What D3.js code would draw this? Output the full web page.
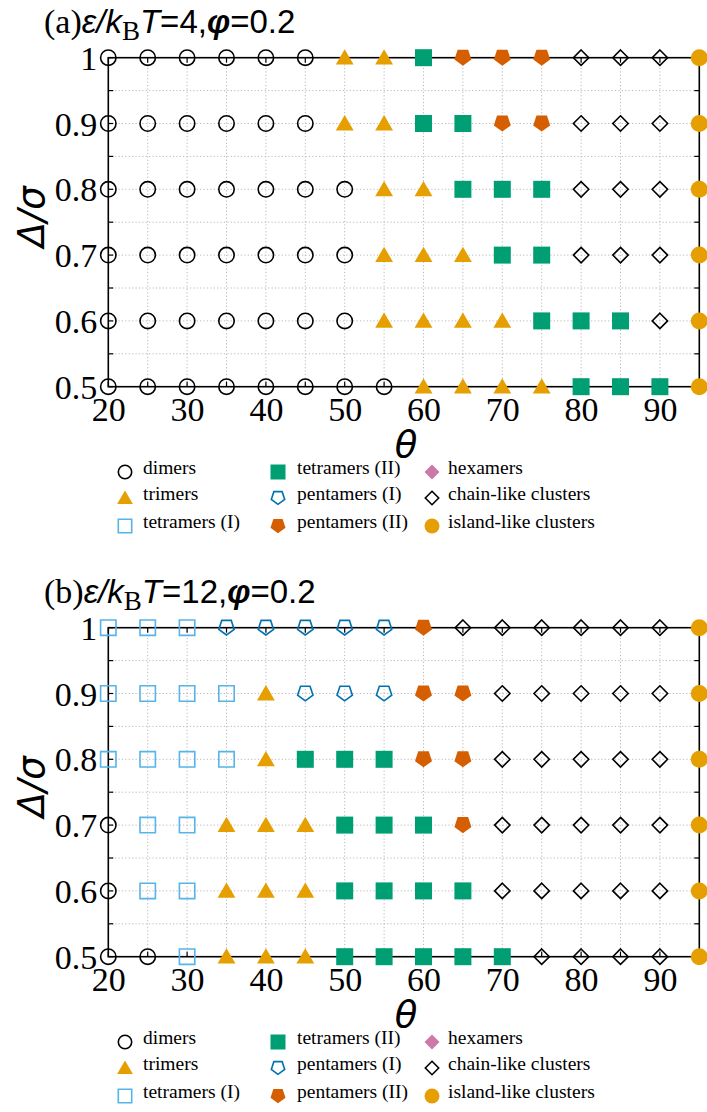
<!DOCTYPE html>
<html>
<head>
<meta charset="utf-8">
<script src="https://cdn.jsdelivr.net/npm/d3@7/dist/d3.min.js"></script>
<style>
  html, body { margin: 0; padding: 0; background: #fff; }
  svg { display: block; }
</style>
</head>
<body>
<svg id="chart" width="707" height="1112"></svg>
<script>
// Angles (x) and patch sizes (y) sampled in the phase diagram
const thetas = [20, 25, 30, 35, 40, 45, 50, 55, 60, 65, 70, 75, 80, 85, 90, 95];
const deltas = [0.5, 0.6, 0.7, 0.8, 0.9, 1.0];
const xTickLabels = [20, 30, 40, 50, 60, 70, 80, 90];
const yTickLabels = [0.5, 0.6, 0.7, 0.8, 0.9, 1.0];

// Phase codes: D dimers, Tr trimers, T1 tetramers (I), T2 tetramers (II),
// P1 pentamers (I), P2 pentamers (II), H hexamers, C chain-like, I island-like
// Rows listed from Δ/σ = 1.0 down to 0.5, each across θ = 20..95
const phasesA = [
  ["D","D","D","D","D","D","Tr","Tr","T2","P2","P2","P2","C","C","C","I"],
  ["D","D","D","D","D","D","Tr","Tr","T2","T2","P2","P2","C","C","C","I"],
  ["D","D","D","D","D","D","D","Tr","Tr","T2","T2","T2","C","C","C","I"],
  ["D","D","D","D","D","D","D","Tr","Tr","Tr","T2","T2","C","C","C","I"],
  ["D","D","D","D","D","D","D","Tr","Tr","Tr","Tr","T2","T2","T2","C","I"],
  ["D","D","D","D","D","D","D","D","Tr","Tr","Tr","Tr","T2","T2","T2","I"]
];
const phasesB = [
  ["T1","T1","T1","P1","P1","P1","P1","P1","P2","C","C","C","C","C","C","I"],
  ["T1","T1","T1","T1","Tr","P1","P1","P1","P2","P2","C","C","C","C","C","I"],
  ["T1","T1","T1","T1","Tr","T2","T2","T2","P2","P2","C","C","C","C","C","I"],
  ["D","T1","T1","Tr","Tr","Tr","T2","T2","T2","P2","C","C","C","C","C","I"],
  ["D","T1","T1","Tr","Tr","Tr","T2","T2","T2","T2","C","C","C","C","C","I"],
  ["D","D","T1","Tr","Tr","Tr","T2","T2","T2","T2","T2","C","C","C","C","I"]
];
const rowDeltas = [1.0, 0.9, 0.8, 0.7, 0.6, 0.5];

const legendCodes = [["D","Tr","T1"],["T2","P1","P2"],["H","C","I"]];
const legendLabels = {
  D: "dimers", Tr: "trimers", T1: "tetramers (I)",
  T2: "tetramers (II)", P1: "pentamers (I)", P2: "pentamers (II)",
  H: "hexamers", C: "chain-like clusters", I: "island-like clusters"
};

// Marker styling per phase
const style = {
  D:  {shape: "circle",   fill: "none",    stroke: "#000"},
  Tr: {shape: "triangle", fill: "#E69F00", stroke: "none"},
  T1: {shape: "square",   fill: "none",    stroke: "#56B4E9"},
  T2: {shape: "square",   fill: "#009E73", stroke: "none"},
  P1: {shape: "pentagon", fill: "none",    stroke: "#0072B2"},
  P2: {shape: "pentagon", fill: "#D55E00", stroke: "none"},
  H:  {shape: "diamond",  fill: "#CC79A7", stroke: "none"},
  C:  {shape: "diamond",  fill: "none",    stroke: "#000"},
  I:  {shape: "circle",   fill: "#E69F00", stroke: "none"}
};

function shapePath(shape, s, filled) {
  // s = half-size of the marker
  const r = filled ? s : s - 0.8;
  if (shape === "circle") {
    const p = d3.path(); p.arc(0, 0, r, 0, 2 * Math.PI); p.closePath(); return p.toString();
  }
  if (shape === "square") {
    return `M${-r},${-r}H${r}V${r}H${-r}Z`;
  }
  if (shape === "triangle") {
    const h = r * 1.8, w = r * 1.05;
    return `M0,${-h*0.55}L${w},${h*0.45}L${-w},${h*0.45}Z`;
  }
  if (shape === "diamond") {
    const d = r * 1.0;
    return `M0,${-d}L${d},0L0,${d}L${-d},0Z`;
  }
  if (shape === "pentagon") {
    // inverted pentagon: flat edge on top, point at the bottom
    const pts = [];
    for (let i = 0; i < 5; i++) {
      const a = Math.PI / 2 + i * 2 * Math.PI / 5;
      pts.push([r * 1.05 * Math.cos(a), r * 1.05 * Math.sin(a) - r * 0.1]);
    }
    return "M" + pts.map(p => p.join(",")).join("L") + "Z";
  }
}

function drawMarker(g, code, cx, cy, s) {
  const st = style[code];
  const filled = st.fill !== "none";
  g.append("path")
    .attr("d", shapePath(st.shape, s, filled))
    .attr("transform", `translate(${cx},${cy})`)
    .attr("fill", st.fill)
    .attr("stroke", st.stroke)
    .attr("stroke-width", filled ? 0 : 1.6);
}

const svg = d3.select("#chart");

function drawPanel(dy, tag, epsValue, phases) {
  const g = svg.append("g").attr("transform", `translate(0,${dy})`);
  const x = d3.scaleLinear().domain([20, 95]).range([108.3, 699.3]);
  const y = d3.scaleLinear().domain([0.5, 1.0]).range([386.7, 57.7]);

  // dotted grid at every minor step
  const gridX = d3.range(20, 95.01, 5);
  const gridY = d3.range(0, 11).map(i => 0.5 + i * 0.05);
  const grid = g.append("g").attr("stroke", "#b8b8b8").attr("stroke-width", 1)
    .attr("stroke-dasharray", "1.2,2.2");
  grid.selectAll("line.gx").data(gridX.slice(1, -1)).join("line")
    .attr("x1", d => x(d)).attr("x2", d => x(d))
    .attr("y1", y(1)).attr("y2", y(0.5));
  grid.selectAll("line.gy").data(gridY.slice(1, -1)).join("line")
    .attr("x1", x(20)).attr("x2", x(95))
    .attr("y1", d => y(d)).attr("y2", d => y(d));

  // inward ticks on all four sides
  const tk = g.append("g").attr("stroke", "#000").attr("stroke-width", 1.2);
  const tl = 5;
  gridX.forEach(v => {
    tk.append("line").attr("x1", x(v)).attr("x2", x(v)).attr("y1", y(0.5)).attr("y2", y(0.5) - tl);
    tk.append("line").attr("x1", x(v)).attr("x2", x(v)).attr("y1", y(1)).attr("y2", y(1) + tl);
  });
  gridY.forEach(v => {
    tk.append("line").attr("x1", x(20)).attr("x2", x(20) + tl).attr("y1", y(v)).attr("y2", y(v));
    tk.append("line").attr("x1", x(95)).attr("x2", x(95) - tl).attr("y1", y(v)).attr("y2", y(v));
  });

  // border box
  g.append("rect")
    .attr("x", x(20)).attr("y", y(1))
    .attr("width", x(95) - x(20)).attr("height", y(0.5) - y(1))
    .attr("fill", "none").attr("stroke", "#000").attr("stroke-width", 1.6);

  // tick labels via d3 axes
  const xAxis = d3.axisBottom(x).tickValues(xTickLabels).tickSize(0).tickPadding(10)
    .tickFormat(d3.format("d"));
  const xa = g.append("g").attr("transform", `translate(0,${y(0.5)})`).call(xAxis);
  xa.select(".domain").remove();
  xa.selectAll("text")
    .attr("font-family", "'Liberation Serif', 'DejaVu Serif', serif")
    .attr("font-size", 34).attr("fill", "#000").attr("dy", "0.72em");

  const yAxis = d3.axisLeft(y).tickValues(yTickLabels).tickSize(0).tickPadding(11)
    .tickFormat(d => d === 1 ? "1" : d.toFixed(1));
  const ya = g.append("g").attr("transform", `translate(${x(20)},0)`).call(yAxis);
  ya.select(".domain").remove();
  ya.selectAll("text")
    .attr("font-family", "'Liberation Serif', 'DejaVu Serif', serif")
    .attr("font-size", 34).attr("fill", "#000").attr("dy", "0.34em");

  // phase markers
  const mk = g.append("g");
  phases.forEach((row, ri) => {
    row.forEach((code, ci) => {
      drawMarker(mk, code, x(thetas[ci]), y(rowDeltas[ri]), 8.5);
    });
  });

  // axis titles
  g.append("text")
    .attr("transform", `translate(44,217) rotate(-90)`)
    .attr("text-anchor", "middle")
    .attr("font-family", "'DejaVu Sans', sans-serif")
    .attr("font-style", "italic")
    .attr("font-size", 37)
    .text("Δ/σ");
  g.append("text")
    .attr("x", 406).attr("y", 457)
    .attr("text-anchor", "middle")
    .attr("font-family", "'DejaVu Sans', sans-serif")
    .attr("font-style", "italic")
    .attr("font-size", 37)
    .text("θ");

  // panel title
  const t = g.append("text").attr("x", 44).attr("y", 33)
    .attr("font-family", "'Liberation Sans', sans-serif").attr("font-size", 33);
  t.append("tspan").attr("font-family", "'Liberation Serif', serif").attr("font-size", 34).text(`(${tag})`);
  t.append("tspan").attr("font-style", "italic").text("ε/k");
  t.append("tspan").attr("font-family", "'Liberation Serif', serif").attr("font-size", 27)
    .attr("dy", 7).text("B");
  t.append("tspan").attr("font-style", "italic").attr("dy", -7).text("T");
  t.append("tspan").text(`=${epsValue},`);
  t.append("tspan").attr("font-style", "italic").attr("font-weight", "bold").text("φ");
  t.append("tspan").text("=0.2");

  // legend
  const lg = g.append("g");
  const colMarkerX = [125, 278, 432];
  const colTextX = [143, 297, 448];
  const rowY = [472, 498, 526];
  legendCodes.forEach((col, c) => {
    col.forEach((code, r) => {
      drawMarker(lg, code, colMarkerX[c], rowY[r], 7.5);
      lg.append("text")
        .attr("x", colTextX[c]).attr("y", rowY[r] + 2)
        .attr("font-family", "'Liberation Serif', 'DejaVu Serif', serif")
        .attr("font-size", 19.5)
        .text(legendLabels[code]);
    });
  });
}

drawPanel(0, "a", 4, phasesA);
drawPanel(570, "b", 12, phasesB);
</script>
</body>
</html>
